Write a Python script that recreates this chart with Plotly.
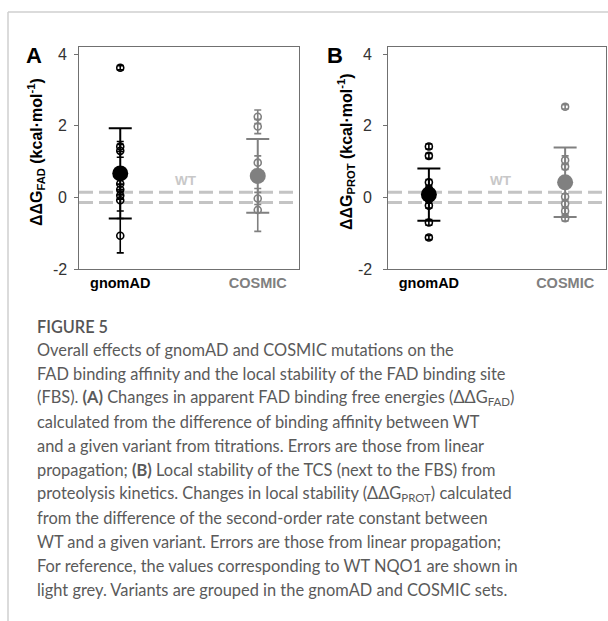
import plotly.graph_objects as go

# ---------------- data ----------------
groups = ["gnomAD", "COSMIC"]
group_colors = ["#000000", "#808080"]

# Panel A: ΔΔG_FAD (kcal/mol)
a_gnomad_vals = [3.62, 1.42, 1.30, 0.38, 0.22, 0.05, -0.08, -1.07]
a_gnomad_errs = [0.06, 0.14, 0.18, 0.20, 0.15, 0.10, 0.30, 0.48]
a_cosmic_vals = [2.25, 1.98, 0.97, -0.03, -0.35]
a_cosmic_errs = [0.19, 0.20, 0.19, 0.17, 0.60]
a_means = [0.67, 0.60]
a_sds = [1.26, 1.03]

# Panel B: ΔΔG_PROT (kcal/mol)
b_gnomad_vals = [1.42, 1.16, 0.42, 0.23, 0.09, -0.05, -0.23, -0.70, -1.12]
b_gnomad_errs = [0.07, 0.07, 0.08, 0.06, 0.06, 0.06, 0.07, 0.08, 0.06]
b_cosmic_vals = [2.53, 1.04, 0.86, 0.02, -0.18, -0.38, -0.58]
b_cosmic_errs = [0.06, 0.12, 0.08, 0.08, 0.08, 0.08, 0.08]
b_means = [0.08, 0.42]
b_sds = [0.73, 0.97]

wt_band = [-0.14, 0.14]

y_ticks = [-2, 0, 2, 4]
y_ticklabels = ["-2", "0", "2", "4"]

caption_title = "FIGURE 5"
caption_lines = [
    "Overall effects of gnomAD and COSMIC mutations on the",
    "FAD binding affinity and the local stability of the FAD binding site",
    "(FBS). <b>(A)</b> Changes in apparent FAD binding free energies (ΔΔG<sub>FAD</sub>)",
    "calculated from the difference of binding affinity between WT",
    "and a given variant from titrations. Errors are those from linear",
    "propagation; <b>(B)</b> Local stability of the TCS (next to the FBS) from",
    "proteolysis kinetics. Changes in local stability (ΔΔG<sub>PROT</sub>) calculated",
    "from the difference of the second-order rate constant between",
    "WT and a given variant. Errors are those from linear propagation;",
    "For reference, the values corresponding to WT NQO1 are shown in",
    "light grey. Variants are grouped in the gnomAD and COSMIC sets.",
]

W, H = 608, 621
CHART_FONT = "Liberation Sans, Arial, sans-serif"
CAP_FONT = "Lato, Open Sans, sans-serif"

fig = go.Figure()


def add_panel(xa, ya, vals_list, errs_list, means, sds):
    for gi, (vals, errs) in enumerate(zip(vals_list, errs_list)):
        fig.add_trace(go.Scatter(
            x=[gi] * len(vals), y=vals, mode="markers",
            xaxis=xa, yaxis=ya, showlegend=False,
            marker=dict(symbol="circle-open", size=7, color=group_colors[gi],
                        line=dict(width=1.6, color=group_colors[gi])),
            error_y=dict(type="data", array=errs, visible=True,
                         color=group_colors[gi], thickness=1.6, width=3.5),
        ))
    for gi in range(2):
        fig.add_trace(go.Scatter(
            x=[gi], y=[means[gi]], mode="markers",
            xaxis=xa, yaxis=ya, showlegend=False,
            marker=dict(symbol="circle", size=16, color=group_colors[gi]),
            error_y=dict(type="data", array=[sds[gi]], visible=True,
                         color=group_colors[gi], thickness=2, width=11.5),
        ))


add_panel("x", "y", [a_gnomad_vals, a_cosmic_vals], [a_gnomad_errs, a_cosmic_errs], a_means, a_sds)
add_panel("x2", "y2", [b_gnomad_vals, b_cosmic_vals], [b_gnomad_errs, b_cosmic_errs], b_means, b_sds)

ydom = [1 - 269 / H, 1 - 47 / H]
ticktext = [
    f"<b><span style='color:{group_colors[0]}'>{groups[0]}</span></b>",
    f"<b><span style='color:{group_colors[1]}'>{groups[1]}</span></b>",
]

xcommon = dict(range=[-0.3, 1.3], tickvals=[0, 1], ticktext=ticktext,
               showgrid=False, zeroline=False, showline=True, mirror=True,
               linecolor="#707070", linewidth=1.2, ticks="", tickangle=0,
               tickfont=dict(family=CHART_FONT, size=14.5, color="#000"),
               fixedrange=True)
ycommon = dict(range=[-2, 4.2], tickvals=y_ticks, showgrid=False, zeroline=False,
               showline=True, mirror=True, linecolor="#707070", linewidth=1.2,
               ticks="outside", ticklen=4, tickcolor="#707070", tickwidth=1,
               showticklabels=False, fixedrange=True)

fig.update_layout(
    width=W, height=H, margin=dict(l=0, r=0, t=0, b=0),
    paper_bgcolor="white", plot_bgcolor="white",
    xaxis=dict(domain=[79 / W, 299 / W], anchor="y", **xcommon),
    yaxis=dict(domain=ydom, anchor="x", **ycommon),
    xaxis2=dict(domain=[388 / W, 606 / W], anchor="y2", **xcommon),
    yaxis2=dict(domain=ydom, anchor="x2", **ycommon),
)

# y tick labels placed on the axis scale
for yr, xright in [("y", 69), ("y2", 374)]:
    for tv, tl in zip(y_ticks, y_ticklabels):
        fig.add_annotation(x=xright / W, y=tv, xref="paper", yref=yr, text=tl,
                           showarrow=False, xanchor="right", yanchor="middle",
                           font=dict(family=CHART_FONT, size=16, color="#333"))

# WT reference dashed lines
for xr, yr in [("x", "y"), ("x2", "y2")]:
    for yv in wt_band:
        fig.add_shape(type="line", xref=f"{xr} domain", yref=yr, x0=0, x1=1, y0=yv, y1=yv,
                      line=dict(color="#c4c4c4", width=3, dash="14px,6px"), layer="below")

fig.add_annotation(x=0.48, y=0.46, xref="x", yref="y", text="<b>WT</b>", showarrow=False,
                   font=dict(family=CHART_FONT, size=13.5, color="#c8c8c8"))
fig.add_annotation(x=0.53, y=0.46, xref="x2", yref="y2", text="<b>WT</b>", showarrow=False,
                   font=dict(family=CHART_FONT, size=13.5, color="#c8c8c8"))

# y-axis titles
for xp, txt in [(36, "<b>ΔΔG<sub>FAD</sub> (kcal·mol<sup>-1</sup>)</b>"),
                (346, "<b>ΔΔG<sub>PROT</sub> (kcal·mol<sup>-1</sup>)</b>")]:
    fig.add_annotation(x=xp / W, y=1 - 152 / H, xref="paper", yref="paper", text=txt,
                       textangle=-90, showarrow=False, xanchor="center", yanchor="middle",
                       font=dict(family=CHART_FONT, size=16, color="#000"))

# panel letters
for xp, letter in [(34, "A"), (335, "B")]:
    fig.add_annotation(x=xp / W, y=1 - 56 / H, xref="paper", yref="paper",
                       text=f"<b>{letter}</b>", showarrow=False,
                       xanchor="center", yanchor="middle",
                       font=dict(family=CHART_FONT, size=22, color="#000"))

# page border lines
fig.add_shape(type="line", xref="paper", yref="paper", x0=8 / W, x1=1, y0=1 - 12 / H, y1=1 - 12 / H,
              line=dict(color="#cfcfcf", width=1.5))
fig.add_shape(type="line", xref="paper", yref="paper", x0=8 / W, x1=8 / W, y0=0, y1=1 - 12 / H,
              line=dict(color="#cfcfcf", width=1.5))

# caption
fig.add_annotation(x=35 / W, y=1 - 326 / H, xref="paper", yref="paper", xanchor="left",
                   yanchor="middle", text=caption_title, showarrow=False,
                   font=dict(family=CAP_FONT, size=16.3, color="#555", weight=600))
for i, line in enumerate(caption_lines):
    yc = 350 + i * 23.9
    fig.add_annotation(x=35 / W, y=1 - yc / H, xref="paper", yref="paper", xanchor="left",
                       yanchor="middle", text=line, showarrow=False,
                       font=dict(family=CAP_FONT, size=16.4, color="#5a5a5a"))

fig.write_html(
    "out.html",
    config={"displayModeBar": False},
    post_script="document.body.style.margin='0';document.body.style.overflow='hidden';",
)
